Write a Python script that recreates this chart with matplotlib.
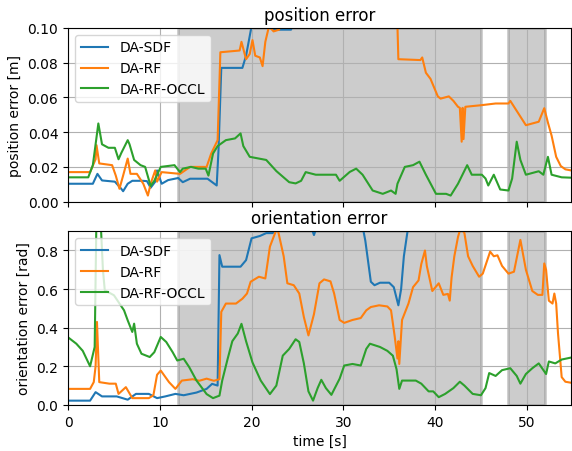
import matplotlib
matplotlib.use('Agg')
import matplotlib.pyplot as plt
import numpy as np

# position error [m]
pos_t_sdf = [0, 2.7, 3.2, 3.7, 5.1, 5.8, 6.0, 6.5, 7.0, 8.1, 8.6, 9.0, 9.5, 9.7, 10.2, 10.9, 12.0,
             12.5, 13.3, 15.2, 16.2, 16.4, 16.7, 19.0, 19.4, 20.0, 21.5, 22.3, 24.3, 25.0, 30, 40,
             50, 54.8]
pos_sdf = [0.0103, 0.0103, 0.016, 0.0122, 0.0115, 0.0074, 0.006, 0.0103, 0.012, 0.012, 0.0118,
           0.008, 0.0115, 0.018, 0.0103, 0.0124, 0.0136, 0.0112, 0.0132, 0.0132, 0.0093, 0.030,
           0.077, 0.077, 0.084, 0.101, 0.105, 0.099, 0.099, 0.11, 0.13, 0.14, 0.13, 0.12]

pos_t_rf = [0, 2.4, 3.0, 3.1, 3.4, 4.8, 5.2, 5.6, 6.0, 6.5, 6.8, 7.5, 8.2, 8.7, 9.0, 9.5, 9.7,
            10.2, 12.2, 13.3, 15.1, 15.6, 16.3, 16.6, 18.7, 18.9, 19.4, 19.8, 20.1, 20.4, 20.9,
            21.2, 21.5, 21.9, 22.4, 23.0, 23.5, 30, 35.8, 36.0, 38.4, 38.6, 39.0, 39.5, 40.3, 40.6,
            41.5, 42.0, 42.5, 42.7, 42.9, 43.0, 43.1, 43.3, 45.0, 46.6, 48.0, 48.2, 49.9, 51.3,
            51.9, 52.3, 52.7, 53.2, 53.7, 54.2, 54.8]
pos_rf = [0.017, 0.017, 0.0244, 0.0325, 0.022, 0.021, 0.015, 0.0074, 0.015, 0.0248, 0.016, 0.016,
          0.0103, 0.0035, 0.0103, 0.018, 0.0115, 0.017, 0.016, 0.020, 0.020, 0.0277, 0.0354, 0.086,
          0.087, 0.092, 0.082, 0.085, 0.093, 0.084, 0.083, 0.078, 0.092, 0.101, 0.098, 0.099, 0.11,
          0.13, 0.12, 0.082, 0.0815, 0.083, 0.0742, 0.0707, 0.0606, 0.0593, 0.0606, 0.058, 0.0546,
          0.054, 0.0345, 0.054, 0.036, 0.0546, 0.0555, 0.0565, 0.0565, 0.058, 0.044, 0.046,
          0.0538, 0.0455, 0.038, 0.0258, 0.0205, 0.0186, 0.018]

pos_t_occl = [0, 2.2, 2.7, 3.3, 3.7, 4.4, 5.1, 5.5, 5.8, 6.5, 6.7, 7.2, 7.9, 8.4, 9.0, 9.4, 10.1,
              11.6, 12.2, 12.5, 13.4, 14.2, 15.0, 15.3, 15.8, 16.3, 17.2, 18.2, 18.8, 19.1, 19.8,
              21.6, 22.7, 24.1, 24.8, 25.4, 25.9, 27.0, 29.2, 29.6, 30.7, 31.4, 32.1, 33.2, 34.3,
              35.2, 35.7, 35.9, 36.7, 37.6, 38.3, 39.0, 40.1, 41.2, 41.7, 42.5, 43.5, 44.0, 45.1,
              45.5, 45.8, 46.4, 47.1, 48.0, 48.4, 48.9, 49.3, 49.9, 51.3, 51.8, 52.3, 52.7, 53.8,
              54.8]
pos_occl = [0.014, 0.014, 0.021, 0.045, 0.033, 0.031, 0.031, 0.0244, 0.028, 0.0354, 0.033, 0.024,
            0.021, 0.020, 0.009, 0.012, 0.020, 0.021, 0.017, 0.019, 0.020, 0.019, 0.019, 0.015,
            0.0277, 0.032, 0.0354, 0.0364, 0.0393, 0.032, 0.0258, 0.024, 0.0176, 0.0112, 0.0105,
            0.012, 0.017, 0.0155, 0.0155, 0.012, 0.0171, 0.019, 0.0155, 0.0064, 0.0045, 0.0064,
            0.0045, 0.0103, 0.020, 0.021, 0.023, 0.0155, 0.0045, 0.0045, 0.0035, 0.0103, 0.021,
            0.0155, 0.0155, 0.0133, 0.0093, 0.0155, 0.007, 0.0064, 0.0133, 0.0345, 0.024, 0.0155,
            0.0175, 0.0155, 0.0258, 0.0155, 0.014, 0.0138]

# orientation error [rad]
ori_t_sdf = [0, 2.4, 3.0, 3.7, 5.3, 6.5, 7.4, 8.8, 9.7, 10.6, 11.7, 12.6, 14.0, 15.1, 15.7,
             16.3, 16.5, 16.8, 18.8, 19.4, 20.0, 20.9, 21.6, 22.3, 23.0, 26.3, 26.8, 27.3, 32.0,
             32.4, 33.0, 33.4, 34.0, 35.0, 35.5, 36.0, 36.3, 36.6, 37.0, 37.4, 45, 54.8]
ori_sdf = [0.022, 0.022, 0.066, 0.044, 0.044, 0.027, 0.057, 0.057, 0.035, 0.044, 0.057, 0.05,
           0.064, 0.083, 0.109, 0.1, 0.776, 0.716, 0.716, 0.75, 0.863, 0.875, 0.89, 0.89, 0.95,
           0.95, 0.88, 0.95, 0.95, 0.85, 0.638, 0.62, 0.633, 0.633, 0.61, 0.516, 0.6, 0.77, 0.9,
           1.0, 1.1, 1.1]

ori_t_rf = [0, 2.4, 2.8, 3.0, 3.15, 3.4, 4.5, 5.2, 5.5, 6.3, 7.0, 8.8, 9.3, 9.7, 10.1, 11.0,
            11.7, 12.4, 13.6, 14.3, 15.1, 15.9, 16.5, 16.7, 17.2, 18.3, 19.0, 19.5, 19.9, 20.8,
            21.5, 22.0, 22.8, 23.5, 23.9, 24.6, 25.2, 25.7, 26.2, 26.8, 27.4, 27.9, 28.6, 29.0,
            29.6, 30.1, 31.0, 31.9, 32.5, 33.0, 33.9, 34.8, 35.2, 35.6, 35.9, 36.0, 36.1, 36.4,
            37.1, 37.6, 38.2, 38.5, 38.9, 39.1, 39.7, 40.4, 40.9, 41.4, 41.6, 41.8, 42.1, 42.5,
            42.8, 43.2, 43.6, 44.1, 44.8, 45.2, 46.0, 46.4, 46.8, 47.3, 48.0, 48.6, 49.3, 49.9,
            50.6, 51.2, 51.7, 51.9, 52.1, 52.4, 52.8, 53.0, 53.2, 53.4, 53.8, 54.2, 54.8]
ori_rf = [0.083, 0.083, 0.118, 0.2, 0.43, 0.118, 0.11, 0.11, 0.057, 0.092, 0.035, 0.035, 0.05,
          0.156, 0.178, 0.118, 0.083, 0.126, 0.133, 0.125, 0.136, 0.125, 0.133, 0.482, 0.525,
          0.525, 0.55, 0.577, 0.638, 0.664, 0.655, 0.82, 0.92, 0.77, 0.63, 0.62, 0.577, 0.455,
          0.36, 0.47, 0.63, 0.65, 0.64, 0.577, 0.44, 0.425, 0.44, 0.45, 0.49, 0.507, 0.516, 0.51,
          0.49, 0.355, 0.24, 0.33, 0.212, 0.44, 0.525, 0.61, 0.645, 0.73, 0.8, 0.72, 0.59, 0.63,
          0.57, 0.575, 0.54, 0.66, 0.77, 0.87, 0.92, 0.89, 0.77, 0.72, 0.664, 0.68, 0.794, 0.77,
          0.775, 0.72, 0.68, 0.69, 0.855, 0.7, 0.59, 0.57, 0.57, 0.733, 0.7, 0.54, 0.525, 0.577,
          0.525, 0.37, 0.144, 0.12, 0.115]

ori_t_occl = [0, 0.9, 1.6, 2.4, 2.9, 3.1, 3.4, 3.6, 3.8, 4.0, 5.0, 6.1, 6.5, 7.0, 7.2, 7.5, 8.0,
              8.9, 9.4, 10.1, 10.7, 11.4, 11.9, 12.6, 13.2, 14.0, 15.1, 15.8, 16.5, 16.8, 17.4,
              17.9, 18.5, 18.9, 19.4, 20.1, 21.0, 22.0, 22.7, 23.4, 24.1, 24.8, 25.2, 25.7, 26.2,
              26.7, 27.2, 27.6, 28.1, 28.7, 29.6, 30.1, 31.0, 31.9, 32.5, 32.9, 34.0, 34.8, 35.4,
              35.8, 36.1, 36.4, 37.9, 38.5, 39.3, 39.8, 40.4, 41.1, 42.0, 42.7, 43.2, 44.1, 45.0,
              45.5, 45.9, 46.6, 47.3, 48.2, 48.9, 49.3, 49.9, 50.6, 51.3, 52.1, 52.4, 53.1, 53.8,
              54.8]
ori_occl = [0.35, 0.317, 0.28, 0.2, 0.3, 1.0, 0.95, 0.9, 0.7, 0.594, 0.568, 0.49, 0.438, 0.378,
            0.421, 0.317, 0.265, 0.248, 0.273, 0.352, 0.326, 0.273, 0.23, 0.239, 0.196, 0.126,
            0.056, 0.035, 0.048, 0.126, 0.24, 0.33, 0.37, 0.42, 0.33, 0.22, 0.126, 0.056, 0.1,
            0.255, 0.29, 0.34, 0.326, 0.215, 0.07, 0.022, 0.087, 0.13, 0.087, 0.052, 0.136, 0.204,
            0.212, 0.204, 0.29, 0.317, 0.3, 0.28, 0.255, 0.185, 0.083, 0.126, 0.126, 0.11, 0.07,
            0.07, 0.04, 0.057, 0.087, 0.12, 0.1, 0.057, 0.05, 0.087, 0.165, 0.15, 0.18, 0.19,
            0.15, 0.11, 0.16, 0.19, 0.215, 0.16, 0.225, 0.215, 0.235, 0.245]

# segments without ground truth
spans = [(12, 45), (48, 52)]
names = ['DA-SDF', 'DA-RF', 'DA-RF-OCCL']

fig, (ax1, ax2) = plt.subplots(2, 1, sharex=True, figsize=(5.72, 4.52))
fig.subplots_adjust(left=0.119, right=0.998, top=0.936, bottom=0.102, hspace=0.17)

ax1.plot(pos_t_sdf, pos_sdf, color='C0', label=names[0])
ax1.plot(pos_t_rf, pos_rf, color='C1', label=names[1])
ax1.plot(pos_t_occl, pos_occl, color='C2', label=names[2])
ax1.set_ylim(0, 0.1)
ax1.set_ylabel('position error [m]')
ax1.set_title('position error')

ax2.plot(ori_t_sdf, ori_sdf, color='C0', label=names[0])
ax2.plot(ori_t_rf, ori_rf, color='C1', label=names[1])
ax2.plot(ori_t_occl, ori_occl, color='C2', label=names[2])
ax2.set_ylim(0, 0.9)
ax2.set_yticks([0, 0.2, 0.4, 0.6, 0.8])
ax2.set_ylabel('orientation error [rad]')
ax2.set_title('orientation error')
ax2.set_xlabel('time [s]')
ax2.set_xlim(0, 54.8)

for ax in (ax1, ax2):
    for a, b in spans:
        ax.axvspan(a, b, color='gray', alpha=0.4, lw=2)
    ax.grid()
    ax.legend(loc='upper left')

fig.savefig('out.png', dpi=100)
